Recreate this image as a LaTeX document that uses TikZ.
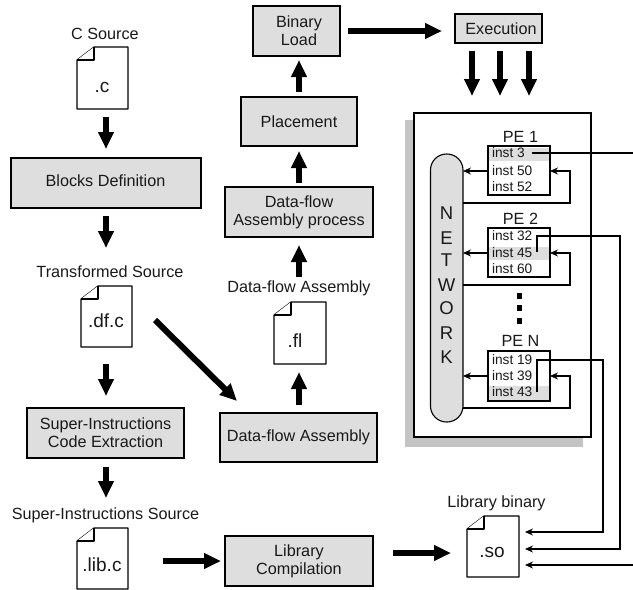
\documentclass[tikz,border=0pt]{standalone}
\usepackage{fontspec}
\setmainfont{Liberation Sans}
\usetikzlibrary{arrows.meta,positioning}
\definecolor{boxgrey}{HTML}{DEDEDE}
\definecolor{shadowgrey}{HTML}{C4C4C4}
\newcommand{\fsz}[1]{\fontsize{#1}{18}\selectfont}
\tikzset{
  x=1pt,y=-1pt,
  every node/.style={inner sep=0pt,outer sep=0pt},
  lab/.style={font=\fsz{16.2},text=black!90},
  pelab/.style={font=\fsz{16.2},text=black!90},
  ins/.style={font=\fsz{13.7},anchor=west,text=black!90},
  net/.style={font=\fsz{18.5},text=black!90},
  ext/.style={font=\fsz{19},text=black!90},
  proc/.style={draw,line width=1.1pt,fill=boxgrey,font=\fsz{16.2},align=center,text=black!90},
  fat/.style={line width=6pt,-{Triangle[length=17pt,width=15pt]}},
  thin/.style={line width=1.1pt,-{Stealth[length=8pt,width=7pt]}},
  plain/.style={line width=1.1pt},
  docline/.style={line width=1.1pt,line join=round,fill=white},
  pebox/.style={draw,line width=1.1pt,minimum width=62pt},
  hl/.style={fill=boxgrey,draw=none}
}
\newcommand{\docshape}[5]{% name, left, top, right, bottom
  \draw[docline] (#2+17,#3) -- (#4,#3) -- (#4,#5) -- (#2,#5) -- (#2,#3+13) -- cycle;
  \draw[docline] (#2,#3+13) -- (#2+17,#3+13) -- (#2+17,#3);
  \coordinate (#1) at ({(#2+#4)/2},{(#3+#5)/2});
}
\begin{document}
\begin{tikzpicture}
\useasboundingbox (0,0) rectangle (633,590);
% left column
\node[lab] (csrc) at (105,33.5) {C Source};
\docshape{dc}{77}{47}{128}{109}
\node[ext] (dct) at (102,87) {.c};
\node[proc,minimum width=190pt,minimum height=50pt] (blocks) at (106,183) {};
\node[lab] (blockst) at (105.5,181) {Blocks Definition};
\coordinate (a1s) at (106,117); \coordinate (a1e) at (106,149);
\draw[fat] (a1s) -- (a1e);
\coordinate (a2s) at (106,216); \coordinate (a2e) at (106,248);
\draw[fat] (a2s) -- (a2e);
\node[lab] (tsrc) at (110,272) {Transformed Source};
\docshape{ddf}{81}{286}{132}{347}
\node[ext] (ddft) at (106,321) {.df.c};
\coordinate (a3s) at (106,364); \coordinate (a3e) at (106,396);
\draw[fat] (a3s) -- (a3e);
\node[proc,minimum width=157pt,minimum height=50pt] (super) at (105.5,433) {Super-Instructions\\Code Extraction};
\coordinate (a4s) at (106,467); \coordinate (a4e) at (106,498);
\draw[fat] (a4s) -- (a4e);
\node[lab] (ssrc) at (105.5,515) {Super-Instructions Source};
\docshape{dlib}{77}{528}{128}{589}
\node[ext] (dlibt) at (102,565) {.lib.c};
% bottom
\coordinate (a5s) at (163,561); \coordinate (a5e) at (221,561);
\draw[fat] (a5s) -- (a5e);
\node[proc,minimum width=148pt,minimum height=50pt] (libc) at (299,561) {Library\\Compilation};
\coordinate (a6s) at (393,553); \coordinate (a6e) at (451,553);
\draw[fat] (a6s) -- (a6e);
\node[lab] (lbin) at (496.5,503) {Library binary};
\docshape{dso}{467}{516}{519}{577}
\node[ext] (dsot) at (492,552) {.so};
% middle column
\coordinate (a7s) at (155,320); \coordinate (a7e) at (237,401);
\draw[fat] (a7s) -- (a7e);
\node[proc,minimum width=157pt,minimum height=49pt] (dfa) at (298.5,437.5) {Data-flow Assembly};
\coordinate (a8s) at (299,405); \coordinate (a8e) at (299,372);
\draw[fat] (a8s) -- (a8e);
\docshape{dfl}{274}{302}{326}{364}
\node[ext] (dflt) at (295,341) {.fl};
\node[lab] (dfal) at (299,288) {Data-flow Assembly};
\coordinate (a9s) at (299,277); \coordinate (a9e) at (299,245);
\draw[fat] (a9s) -- (a9e);
\node[proc,minimum width=148pt,minimum height=50pt] (dfp) at (299,212) {Data-flow\\Assembly process};
\coordinate (a10s) at (299,183); \coordinate (a10e) at (299,151);
\draw[fat] (a10s) -- (a10e);
\node[proc,minimum width=116pt,minimum height=49pt] (place) at (299,121.5) {Placement};
\coordinate (a11s) at (299,92); \coordinate (a11e) at (299,60);
\draw[fat] (a11s) -- (a11e);
\node[proc,minimum width=87pt,minimum height=50pt] (bload) at (296.5,31) {\hspace*{5pt}Binary\\\hspace*{5pt}Load};
\coordinate (a12s) at (348,31); \coordinate (a12e) at (442,31);
\draw[fat] (a12s) -- (a12e);
\node[proc,minimum width=87pt,minimum height=29pt] (exec) at (498.5,28.5) {\hspace*{5pt}Execution};
\foreach \n/\x in {e1/472,e2/500,e3/529}{
  \coordinate (\n s) at (\x,51); \coordinate (\n e) at (\x,96);
  \draw[fat] (\n s) -- (\n e);
}
% big box
\fill[shadowgrey] (405,120) rectangle (583,447);
\node[draw,line width=1.1pt,fill=white,minimum width=177pt,minimum height=324pt] (outer) at (502.5,275) {};
\node[draw,line width=1.1pt,fill=boxgrey,rounded corners=16pt,minimum width=32.5pt,minimum height=268pt] (network) at (446.75,288) {};
\foreach \c/\y in {N/213,E/238,T/260,W/285,O/308,R/333,K/357}{
  \node[net] (net\c) at (446.5,\y) {\c};
}
% PE 1
\node[pelab] (pe1l) at (520.5,137) {PE 1};
\fill[hl] (488,148) rectangle (550,161);
\node[pebox,minimum height=49pt] (pe1) at (519,170.5) {};
\node[ins] (i3) at (492,153) {inst 3};
\node[ins] (i50) at (492,171) {inst 50};
\node[ins] (i52) at (492,187) {inst 52};
% PE 2
\node[pelab] (pe2l) at (520.5,219) {PE 2};
\fill[hl] (488,247) rectangle (550,260);
\node[pebox,minimum height=49pt] (pe2) at (519,252.5) {};
\node[ins] (i32) at (492,236) {inst 32};
\node[ins] (i45) at (492,253) {inst 45};
\node[ins] (i60) at (492,269) {inst 60};
% dots
\foreach \n/\y in {d1/296,d2/308,d3/321}{
  \fill (516.5,\y-2.7) rectangle (522,\y+2.7);
}
% PE N
\node[pelab] (penl) at (520.5,341) {PE N};
\fill[hl] (488,386) rectangle (550,400);
\node[pebox,minimum height=50pt] (pen) at (519,376) {};
\node[ins] (i19) at (492,360) {inst 19};
\node[ins] (i39) at (492,376) {inst 39};
\node[ins] (i43) at (492,392) {inst 43};
% connector way-points
\coordinate (r1) at (570,203); \coordinate (r2) at (570,285); \coordinate (r3) at (570,408);
\coordinate (out1) at (633,153);
\coordinate (s3) at (532,153);
\coordinate (s45) at (537,252); \coordinate (t32) at (537,236);
\coordinate (s43) at (537,392); \coordinate (t19) at (537,360);
\coordinate (v2) at (620,236); \coordinate (v3) at (603,360);
\coordinate (so1) at (525,532); \coordinate (so2) at (525,549); \coordinate (so3) at (525,565);
\coordinate (in3) at (633,565);
% connectors
\draw[plain] (s3) -- (out1);
\draw[thin] (pe1.west |- i50) -- (network.east |- i50);
\draw[thin] (network.east |- r1) -- (r1) -- (r1 |- i50) -- (pe1.east |- i50);
\draw[thin] (pe2.west |- i45) -- (network.east |- i45);
\draw[thin] (network.east |- r2) -- (r2) -- (r2 |- i45) -- (pe2.east |- i45);
\draw[thin] (pen.west |- i39) -- (network.east |- i39);
\draw[thin] (network.east |- r3) -- (r3) -- (r3 |- i39) -- (pen.east |- i39);
\draw[thin] (s45) -- (t32) -- (v2) -- (v2 |- so2) -- (so2);
\draw[thin] (s43) -- (t19) -- (v3) -- (v3 |- so1) -- (so1);
\draw[thin] (in3) -- (so3);
\end{tikzpicture}
\end{document}
